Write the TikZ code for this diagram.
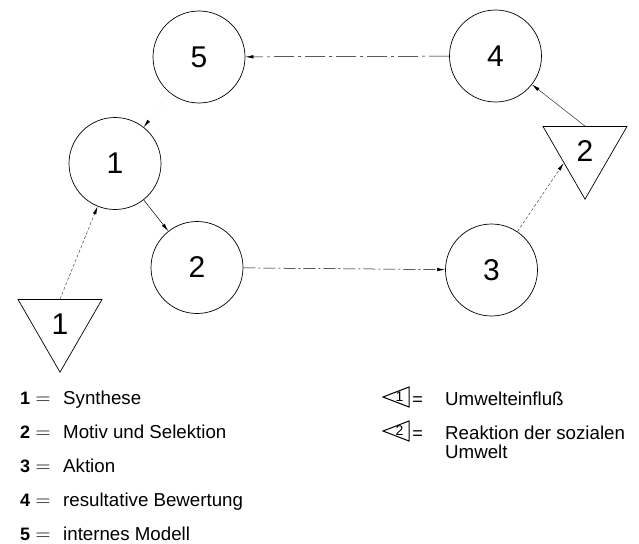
\documentclass[tikz,border=0pt]{standalone}
\usepackage{fontspec}
\setmainfont{Liberation Sans}
\usetikzlibrary{shapes.geometric,arrows.meta}

\begin{document}
\begin{tikzpicture}[x=10pt,y=10pt]
    \tikzstyle{every node}+=[inner sep=0pt]
    \tikzstyle{stage}=[draw, circle, minimum size=92pt, line width=0.7pt, font=\fontsize{30}{32}\selectfont]
    \tikzstyle{env}=[draw, regular polygon, regular polygon sides=3, shape border rotate=180, minimum size=97pt, line width=0.7pt, font=\fontsize{30}{32}\selectfont]
    \tikzstyle{arr}=[-{Latex[length=8pt,width=3.5pt,color=black]}, line width=0.5pt]
    \tikzstyle{legend}=[anchor=base west, font=\fontsize{18.7}{20}\selectfont]
    \useasboundingbox (0,0) rectangle (63.9,-54.3);
    % stages
    \draw (11.5,-16.35) node [stage] (c1) {1};
    \draw (19.7,-26.75) node [stage] (c2) {2};
    \draw (49.15,-27.0) node [stage] (c3) {3};
    \draw (49.55,-5.6) node [stage] (c4) {4};
    \draw (19.9,-5.7) node [stage] (c5) {5};
    % environment
    \draw (6.0,-32.37) node [env] (t1) {\raisebox{-6pt}{1}};
    \draw (58.5,-15.07) node [env] (t2) {\raisebox{-6pt}{2}};
    % connections
    \draw [arr, black!70, dash pattern=on 3pt off 2pt] (t1.side 2) -- (c1);
    \draw [arr] (c1) -- (c2);
    \draw [arr, dash pattern=on 12pt off 3pt on 2pt off 3pt] (c2) -- (c3);
    \draw [arr, black!70, dash pattern=on 3pt off 2pt] (c3) -- (t2.side 3);
    \draw [arr, black!80] (t2.side 2) -- (c4);
    \draw [arr, dash pattern=on 20pt off 4pt on 3pt off 4pt] (c4) -- (c5);
    \draw [arr, black!12, dotted] (c5) -- (c1);
    % legend left
    \draw (2.0,-40.4) node [legend, font=\fontsize{18}{20}\selectfont\bfseries] (k1) {1};
    \draw (4.3,-40.4) node [anchor=base, font=\fontsize{20}{20}\selectfont] (e1) {$=$};
    \draw (6.3,-40.4) node [legend] (l1) {Synthese};
    \draw (2.0,-43.8) node [legend, font=\fontsize{18}{20}\selectfont\bfseries] (k2) {2};
    \draw (4.3,-43.8) node [anchor=base, font=\fontsize{20}{20}\selectfont] (e2) {$=$};
    \draw (6.3,-43.8) node [legend] (l2) {Motiv und Selektion};
    \draw (2.0,-47.2) node [legend, font=\fontsize{18}{20}\selectfont\bfseries] (k3) {3};
    \draw (4.3,-47.2) node [anchor=base, font=\fontsize{20}{20}\selectfont] (e3) {$=$};
    \draw (6.3,-47.2) node [legend] (l3) {Aktion};
    \draw (2.0,-50.6) node [legend, font=\fontsize{18}{20}\selectfont\bfseries] (k4) {4};
    \draw (4.3,-50.6) node [anchor=base, font=\fontsize{20}{20}\selectfont] (e4) {$=$};
    \draw (6.3,-50.6) node [legend] (l4) {resultative Bewertung};
    \draw (2.0,-54.0) node [legend, font=\fontsize{18}{20}\selectfont\bfseries] (k5) {5};
    \draw (4.3,-54.0) node [anchor=base, font=\fontsize{20}{20}\selectfont] (e5) {$=$};
    \draw (6.3,-54.0) node [legend] (l5) {internes Modell};
    % legend right
    \draw [line width=1pt] (38.3,-39.7) -- (40.9,-38.7) -- (40.9,-40.7) -- cycle;
    \draw (39.95,-39.7) node [font=\fontsize{14}{14}\selectfont] (i1) {1};
    \draw (41.75,-40.5) node [anchor=base, font=\fontsize{18}{20}\selectfont] (f1) {=};
    \draw (44.5,-40.5) node [legend] (r1) {Umwelteinfluß};
    \draw [line width=1pt] (38.3,-43.1) -- (40.9,-42.1) -- (40.9,-44.1) -- cycle;
    \draw (39.95,-43.1) node [font=\fontsize{14}{14}\selectfont] (i2) {2};
    \draw (41.75,-43.9) node [anchor=base, font=\fontsize{18}{20}\selectfont] (f2) {=};
    \draw (44.5,-43.9) node [legend] (r2) {Reaktion der sozialen};
    \draw (44.5,-45.85) node [legend] (r3) {Umwelt};
\end{tikzpicture}
\end{document}
